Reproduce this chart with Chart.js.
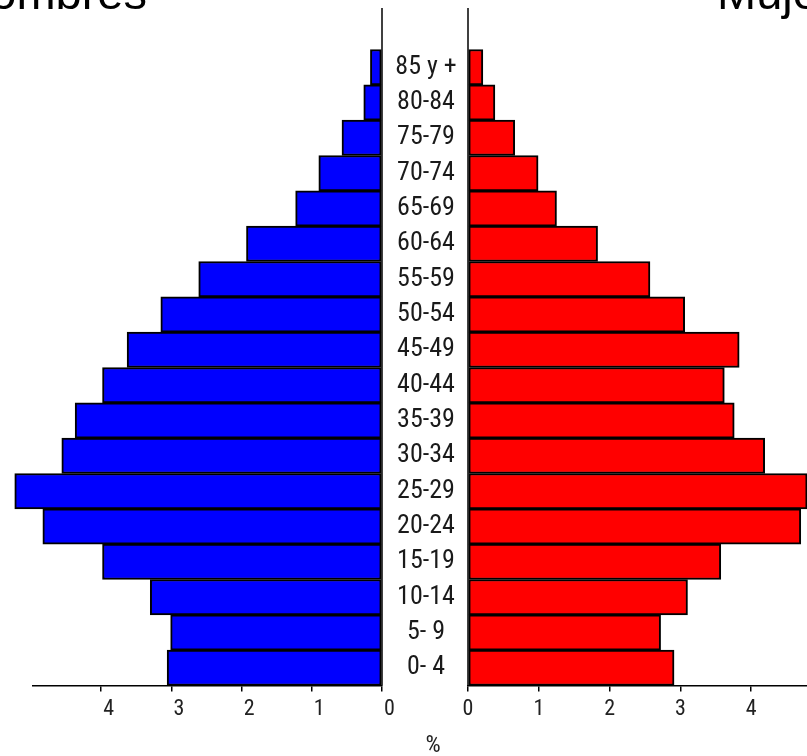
<!DOCTYPE html>
<html><head><meta charset="utf-8">
<script src="https://cdn.jsdelivr.net/npm/chart.js@4.4.1/dist/chart.umd.min.js"></script>
<style>
html,body{margin:0;padding:0;background:#fff;overflow:hidden;width:807px;height:756px}
#wrap{position:relative;width:807px;height:756px;overflow:hidden;background:#fff}
canvas{position:absolute;left:0;top:0}
</style></head><body>
<div id="wrap"><canvas id="cm" width="807" height="756"></canvas><canvas id="cf" width="810" height="756"></canvas></div>
<script>
// ---- data ----
const ageGroups = ["0- 4","5- 9","10-14","15-19","20-24","25-29","30-34","35-39","40-44","45-49","50-54","55-59","60-64","65-69","70-74","75-79","80-84","85 y +"];
const hombres = [3.06,3.01,3.30,3.98,4.83,5.23,4.56,4.37,3.98,3.63,3.15,2.61,1.93,1.23,0.90,0.57,0.26,0.165];
const mujeres = [2.91,2.72,3.10,3.57,4.70,4.79,4.19,3.76,3.62,3.83,3.06,2.57,1.83,1.25,0.99,0.66,0.38,0.21];
const xTickValues = [0,1,2,3,4];
const titleLeft = "Hombres";
const titleRight = "Mujeres";
const unitLabel = "%";

const NARROW = '"Liberation Sans Narrow", "Arial Narrow", "Roboto Condensed", sans-serif';
const SANS = '"Liberation Sans", Arial, sans-serif';

// measure widest age label so that labels are centred between the panels
const mctx = document.createElement('canvas').getContext('2d');
mctx.font = '26px ' + NARROW;
let widest = 0;
ageGroups.forEach(l => { widest = Math.max(widest, mctx.measureText(l).width); });
const labelPad = 36 - widest / 2;

const setTicks = s => { s.ticks = xTickValues.map(v => ({ value: v })); };

const centerLine = {
  id: 'centerLine',
  afterDatasetsDraw(chart) {
    const ctx = chart.ctx;
    const x = chart.scales.x.getPixelForValue(0);
    ctx.save();
    ctx.strokeStyle = '#000';
    ctx.lineWidth = 1.5;
    ctx.beginPath();
    ctx.moveTo(x, 8);
    ctx.lineTo(x, chart.chartArea.bottom);
    ctx.stroke();
    ctx.restore();
  }
};

const texts = {
  id: 'texts',
  afterDraw(chart) {
    const ctx = chart.ctx;
    ctx.save();
    ctx.fillStyle = '#000';
    ctx.font = '47px ' + SANS;
    ctx.textBaseline = 'alphabetic';
    ctx.textAlign = 'right';
    ctx.fillText(titleLeft, 147, 8.5);
    ctx.textAlign = 'left';
    ctx.fillText(titleRight, 717, 9);
    ctx.font = '24px ' + NARROW;
    ctx.fillStyle = '#222';
    ctx.textAlign = 'center';
    ctx.textBaseline = 'middle';
    ctx.fillText(unitLabel, 433, 746);
    ctx.restore();
  }
};

function xAxis(reverse, max, labelOffset) {
  return {
    type: 'linear', position: 'bottom', reverse: reverse, min: 0, max: max,
    afterBuildTicks: setTicks,
    afterFit: s => { s.height = 50; },
    grid: { display: true, drawOnChartArea: false, drawTicks: true, tickLength: 6, color: '#000', lineWidth: 1.5 },
    border: { display: true, color: '#000', width: 1.5 },
    ticks: { font: { family: NARROW, size: 22 }, color: '#222', padding: 5, labelOffset: labelOffset, maxRotation: 0, autoSkip: false }
  };
}

function dataset(label, data, color) {
  return { label: label, data: data, backgroundColor: color, borderColor: '#000', borderWidth: 2,
           borderSkipped: false, barPercentage: 1, categoryPercentage: 1, clip: false };
}

new Chart(document.getElementById('cm'), {
  type: 'bar',
  data: { labels: ageGroups, datasets: [dataset(titleLeft, hombres, '#0000ff')] },
  options: {
    indexAxis: 'y', responsive: false, animation: false, devicePixelRatio: 1,
    layout: { padding: { left: 33, top: 49.5, right: 339, bottom: 20.5 } },
    plugins: { legend: { display: false }, tooltip: { enabled: false } },
    scales: {
      x: xAxis(true, 4.97, 7.5),
      y: {
        type: 'category', position: 'right', reverse: true, offset: true,
        afterFit: s => { s.width = 86; },
        grid: { display: false }, border: { display: false },
        ticks: { font: { family: NARROW, size: 26 }, color: '#1a1a1a', crossAlign: 'center', padding: labelPad, autoSkip: false }
      }
    }
  },
  plugins: [centerLine]
});

new Chart(document.getElementById('cf'), {
  type: 'bar',
  data: { labels: ageGroups, datasets: [dataset(titleRight, mujeres, '#ff0000')] },
  options: {
    indexAxis: 'y', responsive: false, animation: false, devicePixelRatio: 1,
    layout: { padding: { left: 468, top: 49.5, right: 0, bottom: 20.5 } },
    plugins: { legend: { display: false }, tooltip: { enabled: false } },
    scales: {
      x: xAxis(false, 4.83, 0),
      y: { type: 'category', reverse: true, offset: true, display: false }
    }
  },
  plugins: [centerLine, texts]
});
</script>
</body></html>
